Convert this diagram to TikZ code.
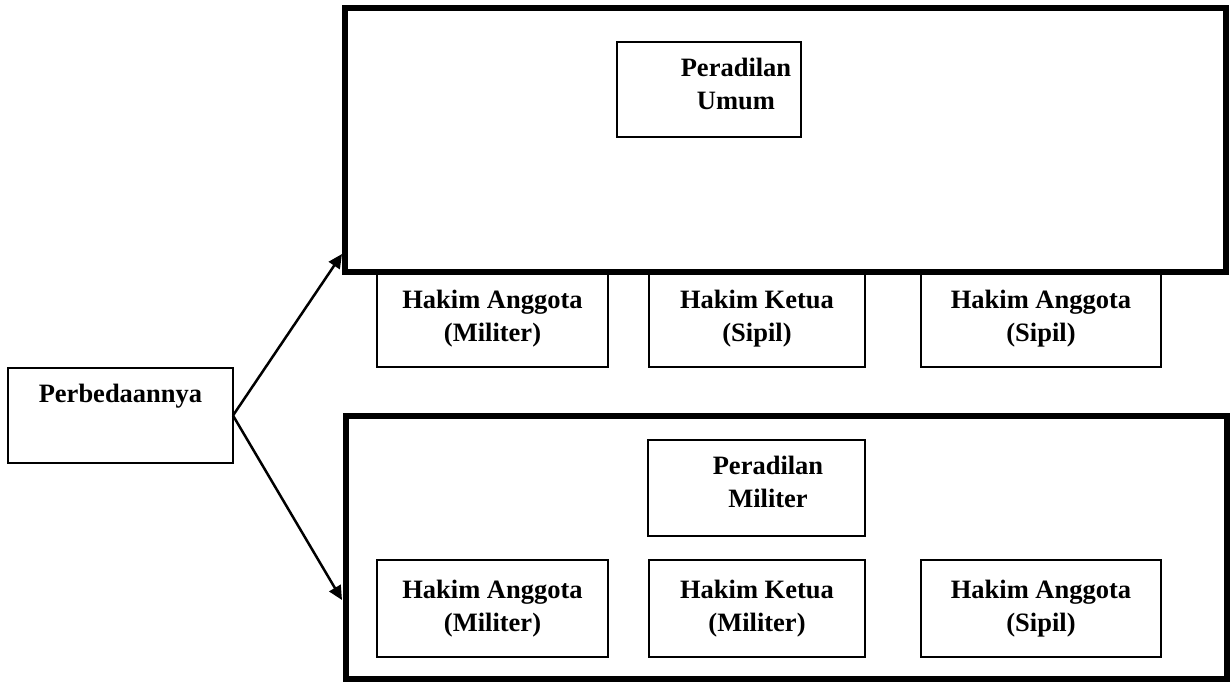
\documentclass[tikz,border=0pt]{standalone}
\usepackage{fontspec}
\setmainfont{Liberation Serif}
\usetikzlibrary{arrows.meta}
\begin{document}
\begin{tikzpicture}[x=1pt,y=-1pt,
  lbl/.style={font=\bfseries\fontsize{26.5}{33}\selectfont, align=center, inner sep=0pt},
  smallbox/.style={draw, line width=2pt, inner sep=0pt, outer sep=0pt, fill=white},
  bigbox/.style={draw, line width=6pt, inner sep=0pt, outer sep=0pt},
  link/.style={line width=2.5pt, -{Triangle[length=14pt,width=13pt]}}]
\useasboundingbox (0,0) rectangle (1232,682);

% origin box on the left
\node[smallbox, minimum width=225pt, minimum height=95pt] (perb) at (120.5,415.5) {};
\node[lbl] (perbtxt) at (120.5,396) {Perbedaannya};

% judges hanging below the upper frame
\node[smallbox, minimum width=231pt, minimum height=97pt, lbl] (ua) at (492.5,318.5) {Hakim Anggota\\(Militer)};
\node[smallbox, minimum width=216pt, minimum height=97pt, lbl] (uk) at (757,318.5) {Hakim Ketua\\(Sipil)};
\node[smallbox, minimum width=240pt, minimum height=97pt, lbl] (us) at (1041,318.5) {Hakim Anggota\\(Sipil)};

% upper frame: general court
\node[bigbox, minimum width=881pt, minimum height=264pt] (umumframe) at (785.5,140) {};
\node[smallbox, minimum width=184pt, minimum height=95pt] (umum) at (709,89.5) {};
\node[lbl] (umumtxt) at (736,84) {Peradilan\\Umum};

% lower frame: military court
\node[bigbox, minimum width=881pt, minimum height=263pt] (milframe) at (786.5,547.5) {};
\node[smallbox, minimum width=217pt, minimum height=96pt] (mil) at (756.5,488) {};
\node[lbl] (miltxt) at (768,482) {Peradilan\\Militer};
\node[smallbox, minimum width=231pt, minimum height=97pt, lbl] (la) at (492.5,608.5) {Hakim Anggota\\(Militer)};
\node[smallbox, minimum width=216pt, minimum height=97pt, lbl] (lk) at (757,608.5) {Hakim Ketua\\(Militer)};
\node[smallbox, minimum width=240pt, minimum height=97pt, lbl] (ls) at (1041,608.5) {Hakim Anggota\\(Sipil)};

% connectors, drawn over the frames so the heads stay visible
\coordinate (toUp) at (342,254);
\coordinate (toLow) at (342,600);
\draw[link] (perb.east) -- (toUp);
\draw[link] (perb.east) -- (toLow);
\end{tikzpicture}
\end{document}
